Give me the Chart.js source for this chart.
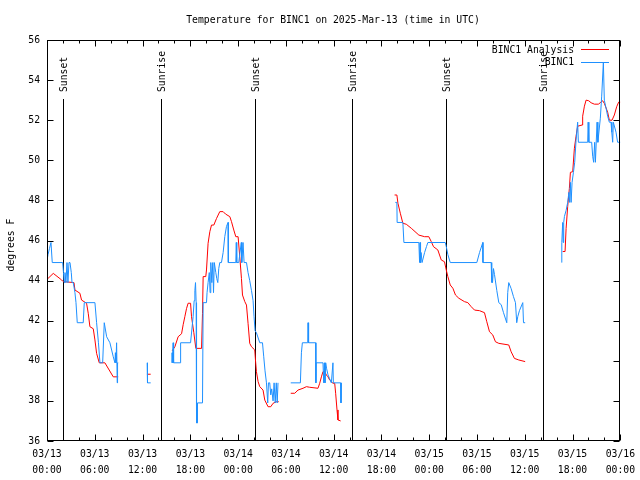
<!DOCTYPE html>
<html><head><meta charset="utf-8">
<script src="https://cdn.jsdelivr.net/npm/chart.js@4/dist/chart.umd.min.js"></script>
<style>html,body{margin:0;padding:0;background:#fff}</style>
</head><body>
<canvas id="c" width="640" height="480"></canvas>
<script>
const chartTitle = 'Temperature for BINC1 on 2025-Mar-13 (time in UTC)';
const yAxisTitle = 'degrees F';
const xTickLabels = [['03/13','00:00'],['03/13','06:00'],['03/13','12:00'],['03/13','18:00'],['03/14','00:00'],['03/14','06:00'],['03/14','12:00'],['03/14','18:00'],['03/15','00:00'],['03/15','06:00'],['03/15','12:00'],['03/15','18:00'],['03/16','00:00']];
const yTicks = [36,38,40,42,44,46,48,50,52,54,56];
const seriesNames = ['BINC1 Analysis','BINC1'];
const sunEventHours = [2.05, 14.35, 26.1, 38.35, 50.15, 62.35];
const sunEventLabels = ['Sunset','Sunrise','Sunset','Sunrise','Sunset','Sunrise'];
const sunLineTop = 53.05;

// hours since 03/13 00:00 UTC, degrees F
const analysisSeg1 = [[0,44.06],[0.79,44.36],[1.84,44.03],[2.04,43.95],[3.39,43.9],[3.51,43.53],[4.13,43.37],[4.34,43.03],[4.97,42.87],[5.18,42.37],[5.39,41.7],[5.81,41.6],[6.02,41.04],[6.23,40.37],[6.56,39.9],[7.27,39.9],[8.32,39.2],[8.94,39.2]];
const analysisSeg2 = [[12.55,39.33],[13.02,39.33]];
const analysisSeg3 = [[15.72,40.5],[16.06,40.7],[16.47,41.2],[16.9,41.35],[17.1,41.8],[17.31,42.2],[17.52,42.6],[17.72,42.87],[18.03,42.87],[18.15,42.2],[18.44,41.4],[18.69,40.62],[19.41,40.62],[19.53,42.37],[19.61,44.2],[19.94,44.2],[20.03,44.53],[20.23,45.86],[20.45,46.44],[20.66,46.77],[20.95,46.77],[21.29,47.1],[21.7,47.44],[22.12,47.44],[22.42,47.32],[22.96,47.19],[23.17,46.94],[23.46,46.52],[23.71,46.19],[24.0,46.19],[24.21,45.19],[24.42,44.11],[24.55,43.28],[24.84,42.95],[25.05,42.78],[25.25,41.87],[25.46,40.87],[25.68,40.7],[26.09,40.54],[26.18,40.04],[26.3,39.46],[26.51,38.96],[26.72,38.71],[27.13,38.54],[27.35,38.04],[27.76,37.71],[28.1,37.71],[28.39,37.88],[28.81,37.96],[29.1,37.96]];
const analysisSeg4 = [[30.61,38.38],[31.11,38.38],[31.52,38.54],[32.15,38.63],[32.58,38.71],[32.99,38.68],[34.03,38.63],[34.25,38.88],[34.46,39.2],[34.66,39.46],[34.87,39.46],[35.09,39.29],[35.29,39.2],[35.5,39.04],[35.91,38.88],[36.13,38.88],[36.25,38.38],[36.42,37.55],[36.54,37.05],[36.88,37.0]];
const analysisSeg5 = [[43.65,48.27],[43.94,48.27],[44.07,47.86],[44.37,47.36],[44.69,46.86],[45.12,46.81],[45.75,46.61],[46.7,46.27],[47.42,46.19],[47.95,46.19],[48.26,45.94],[48.54,45.69],[49.08,45.53],[49.51,45.03],[49.92,44.94],[50.14,44.53],[50.34,44.2],[50.64,43.78],[50.97,43.62],[51.3,43.28],[51.72,43.12],[52.43,42.95],[52.85,42.9],[53.27,42.7],[53.69,42.53],[54.32,42.5],[54.94,42.4],[55.23,41.95],[55.57,41.45],[55.98,41.29],[56.32,40.95],[56.74,40.87],[57.99,40.79],[58.29,40.45],[58.7,40.12],[59.25,40.04],[60.05,39.96]];
const analysisSeg6 = [[64.76,45.45],[65.06,45.45],[65.19,46.6],[65.39,47.7],[65.6,48.6],[65.73,49.4],[66.02,49.43],[66.23,50.6],[66.44,51.2],[66.64,51.7],[67.2,51.76],[67.27,52.2],[67.49,52.7],[67.7,53.0],[68.03,52.97],[68.33,52.87],[68.74,52.8],[69.28,52.8],[69.58,52.92],[69.78,52.97],[69.99,52.84],[70.41,52.4],[70.62,52.0],[70.96,52.0],[71.25,52.26],[71.54,52.67],[71.79,52.9],[72.0,52.9]];

const obsSeg1 = [[0,45.0],[0.13,45.3],[0.31,45.6],[0.5,45.9],[0.66,44.9],[1.97,44.9],[2.07,44.4],[2.17,43.9],[2.26,44.4],[2.38,43.9],[2.51,44.9],[2.63,43.9],[2.76,44.9],[2.89,44.9],[3.05,44.4],[3.14,43.9],[3.3,43.9],[3.51,43.4],[3.64,42.9],[3.8,41.9],[4.55,41.9],[4.68,42.9],[6.02,42.9],[6.23,41.9],[6.46,40.9],[6.65,39.9],[6.99,39.9],[7.19,41.9],[7.49,41.2],[7.9,40.9],[8.32,40.2],[8.53,39.9],[8.59,40.4],[8.66,39.9],[8.74,40.9],[8.82,38.9],[8.86,39.9],[8.94,39.9]];
const obsSeg2 = [[12.58,39.9],[12.62,38.9],[13.02,38.9]];
const obsSeg3 = [[15.71,40.4],[15.73,39.9],[15.84,40.9],[15.9,39.9],[16.77,39.9],[16.78,40.9],[18.03,40.9],[18.35,42.2],[18.48,43.0],[18.57,43.5],[18.65,43.9],[18.73,42.9],[18.78,36.9],[18.85,36.9],[18.9,37.9],[19.53,37.9],[19.61,42.9],[20.03,42.9],[20.1,43.4],[20.23,43.9],[20.38,44.4],[20.48,43.4],[20.57,44.9],[20.7,43.9],[20.82,44.9],[20.91,43.4],[21.01,44.9],[21.2,44.4],[21.32,44.1],[21.45,43.9],[21.57,44.6],[21.7,44.9],[21.91,44.9],[22.12,45.4],[22.33,46.2],[22.54,46.7],[22.74,46.9],[22.77,44.9],[23.71,44.9],[23.77,45.9],[23.83,44.9],[24.08,44.9],[24.4,45.9],[24.46,44.9],[24.62,45.9],[24.75,44.9],[25.05,44.9],[25.25,44.4],[25.46,44.0],[25.68,43.5],[25.88,43.0],[26.0,42.2],[26.13,41.5],[26.3,41.4],[26.72,40.9],[27.06,40.9],[27.22,40.2],[27.38,39.5],[27.56,38.9],[27.72,37.9],[27.81,38.9],[27.97,38.9],[28.1,38.3],[28.22,38.6],[28.39,38.0],[28.52,38.9],[28.66,37.9],[28.79,38.9],[28.91,37.9],[29.01,38.9]];
const obsSeg4 = [[30.61,38.9],[31.82,38.9],[31.95,40.4],[32.07,40.9],[32.74,40.9],[32.78,41.9],[32.83,41.4],[32.87,40.9],[33.74,40.9],[33.77,38.9],[33.8,39.9],[34.66,39.9],[34.75,38.9],[34.83,39.9],[34.91,38.9],[35.0,39.9],[35.12,39.6],[35.29,39.3],[35.5,39.1],[35.71,38.9],[35.91,39.9],[35.96,38.9],[36.88,38.9],[36.92,37.9],[36.97,38.9]];
const obsSeg5 = [[43.74,47.9],[43.94,47.9],[43.97,46.9],[44.69,46.9],[44.82,45.9],[46.7,45.9],[46.79,44.9],[46.85,45.9],[46.91,44.9],[46.98,45.4],[47.1,44.9],[47.42,45.4],[47.66,45.7],[47.83,45.9],[50.01,45.9],[50.14,45.7],[50.34,45.3],[50.64,44.9],[53.98,44.9],[54.32,45.4],[54.73,45.9],[54.75,44.9],[55.78,44.9],[55.82,43.9],[55.88,44.6],[55.95,43.9],[56.07,44.6],[56.2,44.3],[56.49,43.5],[56.74,42.9],[57.04,42.8],[57.33,42.4],[57.74,41.9],[57.86,43.4],[57.99,43.9],[58.29,43.6],[58.58,43.2],[58.83,42.9],[58.99,41.9],[59.12,42.2],[59.33,42.5],[59.75,42.9],[59.84,41.9],[60.05,41.9]];
const obsSeg6 = [[64.64,44.9],[64.65,45.9],[64.76,46.9],[64.82,45.9],[64.89,46.9],[64.98,47.2],[65.19,47.5],[65.39,47.9],[65.54,48.4],[65.63,47.9],[65.73,48.9],[65.82,47.9],[65.94,48.9],[66.11,49.4],[66.27,49.9],[66.44,51.0],[66.64,51.9],[66.73,50.9],[67.9,50.9],[67.96,51.9],[68.05,50.9],[68.4,50.9],[68.53,50.2],[68.65,49.9],[68.78,50.9],[68.87,49.9],[69.08,51.9],[69.18,50.9],[69.49,52.1],[69.66,53.2],[69.87,54.9],[69.99,53.0],[70.21,52.6],[70.41,52.2],[70.62,51.9],[70.83,51.9],[70.93,51.4],[71.04,50.9],[71.12,51.9],[71.46,51.4],[71.66,50.9],[72.0,50.9]];

function joinSegments(segs) {
  const out = [];
  segs.forEach((s, i) => {
    if (i > 0) out.push({x: s[0][0] - 0.01, y: null});
    s.forEach(p => out.push({x: p[0], y: p[1]}));
  });
  return out;
}

const FONT_FAMILY = '"DejaVu Sans Mono", "Liberation Mono", monospace';
const FONT = '9.75px ' + FONT_FAMILY;
const RED = '#ff0000';
const BLUE = '#1e90ff';

const overlay = {
  id: 'overlay',
  beforeDatasetsDraw(chart) {
    const {ctx, scales: {x, y}} = chart;
    ctx.save();
    ctx.strokeStyle = '#000'; ctx.lineWidth = 1; ctx.fillStyle = '#000'; ctx.font = FONT;
    sunEventHours.forEach((h, i) => {
      const px = Math.round(x.getPixelForValue(h)) + 0.5;
      const top = Math.round(y.getPixelForValue(sunLineTop));
      ctx.beginPath(); ctx.moveTo(px, top); ctx.lineTo(px, y.bottom); ctx.stroke();
      ctx.save();
      ctx.translate(px + 1, top - 7);
      ctx.rotate(-Math.PI / 2);
      ctx.textAlign = 'left'; ctx.textBaseline = 'middle';
      ctx.fillText(sunEventLabels[i], 0, 0);
      ctx.restore();
    });
    ctx.restore();
  },
  afterDatasetsDraw(chart) {
    const {ctx, chartArea: a, scales: {x, y}} = chart;
    ctx.save();
    ctx.strokeStyle = '#000'; ctx.lineWidth = 1;
    const L = Math.round(a.left) + 0.5, R = Math.round(a.right) - 0.5, T = Math.round(a.top) + 0.5, B = Math.round(a.bottom) - 0.5;
    ctx.strokeRect(L, T, R - L, B - T);
    ctx.beginPath();
    for (let h = 0; h <= 72; h += 2) {
      const px = Math.round(x.getPixelForValue(h)) + 0.5;
      const len = (h % 6 === 0) ? 6 : 3;
      ctx.moveTo(px, B); ctx.lineTo(px, B - len);
      ctx.moveTo(px, T); ctx.lineTo(px, T + len);
    }
    yTicks.forEach(v => {
      const py = Math.round(y.getPixelForValue(v)) + 0.5;
      ctx.moveTo(L, py); ctx.lineTo(L + 6, py);
      ctx.moveTo(R, py); ctx.lineTo(R - 6, py);
    });
    ctx.stroke();
    // legend
    ctx.font = FONT; ctx.textAlign = 'right'; ctx.textBaseline = 'middle';
    chart.data.datasets.forEach((ds, i) => {
      const ly = 50 + i * 12.5;
      ctx.fillStyle = '#000';
      ctx.fillText(ds.label, 574, ly);
      ctx.strokeStyle = ds.borderColor;
      ctx.beginPath(); ctx.moveTo(581, Math.round(ly) - 0.5); ctx.lineTo(609, Math.round(ly) - 0.5); ctx.stroke();
    });
    ctx.restore();
  },
  afterDraw(chart) {
    const {ctx} = chart;
    ctx.save();
    ctx.fillStyle = '#000'; ctx.font = FONT;
    ctx.textAlign = 'center'; ctx.textBaseline = 'middle';
    ctx.fillText(chartTitle, 333, 20);
    ctx.translate(11, 245); ctx.rotate(-Math.PI / 2);
    ctx.fillText(yAxisTitle, 0, 0);
    ctx.restore();
  }
};

new Chart(document.getElementById('c'), {
  type: 'line',
  data: {
    datasets: [
      { label: seriesNames[0], data: joinSegments([analysisSeg1, analysisSeg2, analysisSeg3, analysisSeg4, analysisSeg5, analysisSeg6]),
        borderColor: RED, borderWidth: 1, pointRadius: 0, tension: 0, spanGaps: false, order: 1 },
      { label: seriesNames[1], data: joinSegments([obsSeg1, obsSeg2, obsSeg3, obsSeg4, obsSeg5, obsSeg6]),
        borderColor: BLUE, borderWidth: 1, pointRadius: 0, tension: 0, spanGaps: false, order: 0 }
    ]
  },
  options: {
    responsive: false, animation: false, devicePixelRatio: 1,
    layout: { padding: { left: 0, right: 19, top: 40, bottom: 0 } },
    plugins: { legend: { display: false }, title: { display: false }, tooltip: { enabled: false } },
    scales: {
      x: {
        type: 'linear', min: 0, max: 72,
        grid: { display: false, drawTicks: false }, border: { display: false },
        afterBuildTicks(scale) { scale.ticks = xTickLabels.map((l, i) => ({ value: i * 6 })); },
        afterFit(scale) { scale.height = 39; },
        ticks: {
          autoSkip: false, maxRotation: 0, minRotation: 0, padding: 5, color: '#000',
          font: { family: FONT_FAMILY, size: 9.75, lineHeight: 1.64 },
          callback: (v) => xTickLabels[Math.round(v / 6)]
        }
      },
      y: {
        type: 'linear', min: 36, max: 56,
        grid: { display: false, drawTicks: false }, border: { display: false },
        afterBuildTicks(scale) { scale.ticks = yTicks.map(v => ({ value: v })); },
        afterFit(scale) { scale.width = 47; },
        ticks: { padding: 7, color: '#000', font: { family: FONT_FAMILY, size: 9.75 }, callback: v => String(v) }
      }
    }
  },
  plugins: [overlay]
});
</script>
</body></html>
